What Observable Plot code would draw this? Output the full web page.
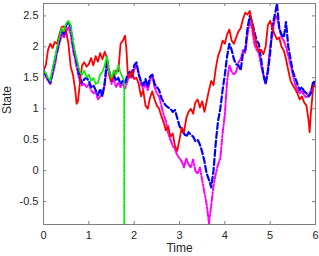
<!DOCTYPE html>
<html><head><meta charset="utf-8">
<script src="https://cdn.jsdelivr.net/npm/d3@7"></script>
<script src="https://cdn.jsdelivr.net/npm/@observablehq/plot@0.6"></script>
<style>
html,body{margin:0;padding:0;background:#fff;}
#chart{width:319px;height:256px;}
</style>
</head><body><div id="chart"></div>
<script>
const xTicks = [0, 1, 2, 3, 4, 5, 6];
const yTicks = [-0.5, 0, 0.5, 1, 1.5, 2, 2.5];
const xLabel = "Time";
const yLabel = "State";

const redSeries = [[0,1.62],[0.05,1.70],[0.10,1.95],[0.15,2.05],[0.20,1.98],[0.25,2.08],[0.30,2.05],[0.35,2.20],[0.40,2.32],[0.45,2.33],[0.50,2.25],[0.55,2.05],[0.60,1.68],[0.65,1.55],[0.70,1.30],[0.73,1.08],[0.76,1.12],[0.80,1.40],[0.85,1.70],[0.90,1.75],[0.95,1.68],[1.00,1.72],[1.05,1.82],[1.10,1.70],[1.15,1.85],[1.20,1.76],[1.25,1.90],[1.30,1.80],[1.35,1.92],[1.40,1.82],[1.45,1.55],[1.50,1.45],[1.55,1.55],[1.60,1.62],[1.65,1.60],[1.70,2.05],[1.75,2.10],[1.80,2.18],[1.83,1.95],[1.86,1.55],[1.90,1.50],[1.95,1.62],[2.00,1.48],[2.05,1.50],[2.10,1.40],[2.15,1.20],[2.20,1.30],[2.25,1.05],[2.30,1.00],[2.35,1.18],[2.40,1.28],[2.45,1.15],[2.50,1.05],[2.55,1.00],[2.60,0.88],[2.65,0.78],[2.70,0.65],[2.75,0.72],[2.80,0.55],[2.85,0.60],[2.90,0.40],[2.95,0.32],[3.00,0.50],[3.05,0.70],[3.10,0.62],[3.15,0.85],[3.20,0.95],[3.25,1.00],[3.30,0.92],[3.35,1.10],[3.40,1.15],[3.45,1.02],[3.50,1.12],[3.55,0.95],[3.60,1.12],[3.65,1.30],[3.70,1.45],[3.75,1.38],[3.80,1.65],[3.85,1.85],[3.90,1.95],[3.95,2.10],[4.00,2.05],[4.05,2.20],[4.10,2.28],[4.15,2.10],[4.20,2.05],[4.25,2.15],[4.30,2.25],[4.35,2.30],[4.40,2.45],[4.45,2.55],[4.50,2.52],[4.55,2.58],[4.60,2.40],[4.65,2.20],[4.70,2.02],[4.75,1.92],[4.80,1.95],[4.85,1.88],[4.90,2.00],[4.95,2.35],[5.00,2.42],[5.05,2.30],[5.10,2.20],[5.15,2.12],[5.20,2.15],[5.25,2.00],[5.30,1.94],[5.35,1.80],[5.40,1.62],[5.45,1.45],[5.50,1.38],[5.55,1.32],[5.60,1.25],[5.65,1.15],[5.70,1.20],[5.75,1.10],[5.80,1.05],[5.85,0.80],[5.87,0.62],[5.90,0.95],[5.95,1.35],[6.00,1.40]];

const blueSeries = [[0,1.62],[0.05,1.55],[0.10,1.48],[0.15,1.42],[0.20,1.60],[0.25,1.78],[0.30,1.95],[0.35,2.10],[0.40,2.28],[0.45,2.20],[0.50,2.35],[0.55,2.40],[0.60,2.32],[0.65,2.05],[0.70,1.85],[0.75,1.70],[0.80,1.50],[0.85,1.42],[0.90,1.48],[0.95,1.50],[1.00,1.45],[1.05,1.35],[1.10,1.38],[1.15,1.30],[1.20,1.22],[1.25,1.32],[1.30,1.20],[1.35,1.42],[1.40,1.80],[1.45,1.60],[1.50,1.45],[1.55,1.55],[1.60,1.45],[1.65,1.50],[1.70,1.40],[1.75,1.45],[1.80,1.40],[1.85,1.55],[1.90,1.60],[1.95,1.52],[2.00,1.70],[2.05,1.75],[2.10,1.55],[2.15,1.45],[2.20,1.38],[2.25,1.48],[2.30,1.35],[2.35,1.52],[2.40,1.55],[2.45,1.40],[2.50,1.35],[2.55,1.30],[2.60,1.18],[2.65,1.10],[2.70,1.05],[2.75,1.02],[2.80,1.00],[2.85,0.95],[2.90,0.98],[2.95,0.85],[3.00,0.72],[3.05,0.65],[3.10,0.60],[3.15,0.55],[3.20,0.62],[3.25,0.58],[3.30,0.55],[3.35,0.48],[3.40,0.50],[3.45,0.42],[3.50,0.30],[3.55,0.15],[3.60,-0.05],[3.65,-0.15],[3.70,-0.27],[3.75,0.00],[3.80,0.45],[3.85,0.80],[3.90,1.00],[3.95,1.30],[4.00,1.55],[4.05,1.85],[4.10,2.05],[4.15,1.95],[4.20,1.80],[4.25,1.72],[4.30,1.70],[4.35,1.62],[4.40,1.90],[4.45,1.95],[4.50,2.30],[4.55,2.50],[4.60,2.40],[4.65,2.25],[4.70,2.10],[4.75,2.05],[4.80,1.80],[4.85,1.55],[4.90,1.40],[4.95,1.60],[5.00,1.90],[5.05,2.35],[5.10,2.50],[5.15,2.70],[5.20,2.30],[5.25,2.20],[5.30,2.15],[5.35,2.40],[5.40,2.00],[5.45,1.80],[5.50,1.60],[5.55,1.50],[5.60,1.40],[5.65,1.30],[5.70,1.35],[5.75,1.28],[5.80,1.25],[5.85,1.20],[5.90,1.25],[5.95,1.45],[6.00,1.40]];

const magentaSeries = [[0,1.60],[0.05,1.52],[0.10,1.45],[0.15,1.40],[0.20,1.55],[0.25,1.70],[0.30,1.90],[0.35,2.05],[0.40,2.20],[0.45,2.15],[0.50,2.25],[0.55,2.32],[0.60,2.20],[0.65,1.95],[0.70,1.78],[0.75,1.60],[0.80,1.45],[0.85,1.38],[0.90,1.40],[0.95,1.35],[1.00,1.40],[1.05,1.30],[1.10,1.25],[1.15,1.28],[1.20,1.15],[1.25,1.20],[1.30,1.25],[1.35,1.38],[1.40,1.70],[1.45,1.55],[1.50,1.40],[1.55,1.48],[1.60,1.35],[1.65,1.42],[1.70,1.35],[1.75,1.40],[1.80,1.32],[1.85,1.45],[1.90,1.55],[1.95,1.50],[2.00,1.62],[2.05,1.72],[2.10,1.58],[2.15,1.40],[2.20,1.32],[2.25,1.40],[2.30,1.30],[2.35,1.45],[2.40,1.55],[2.45,1.35],[2.50,1.25],[2.55,1.20],[2.60,1.05],[2.65,0.90],[2.70,0.80],[2.75,0.60],[2.80,0.50],[2.85,0.40],[2.90,0.35],[2.95,0.25],[3.00,0.20],[3.05,0.15],[3.10,0.05],[3.15,0.20],[3.20,0.10],[3.25,0.05],[3.30,0.18],[3.35,0.00],[3.40,-0.05],[3.45,0.05],[3.50,-0.15],[3.55,-0.35],[3.60,-0.55],[3.65,-0.85],[3.70,-0.55],[3.75,-0.25],[3.80,-0.05],[3.85,0.10],[3.90,0.20],[3.95,0.60],[4.00,0.90],[4.05,1.45],[4.10,1.70],[4.15,1.60],[4.20,1.55],[4.25,1.60],[4.30,1.75],[4.35,1.80],[4.40,1.95],[4.45,1.90],[4.50,2.20],[4.55,2.40],[4.60,2.30],[4.65,2.05],[4.70,1.95],[4.75,1.90],[4.80,1.70],[4.85,1.55],[4.90,1.40],[4.95,1.65],[5.00,2.00],[5.05,2.20],[5.10,2.45],[5.15,2.50],[5.20,2.30],[5.25,2.15],[5.30,2.10],[5.35,2.00],[5.40,1.85],[5.45,1.70],[5.50,1.55],[5.55,1.40],[5.60,1.30],[5.65,1.25],[5.70,1.28],[5.75,1.22],[5.80,1.18],[5.85,1.22],[5.90,1.30],[5.95,1.38],[6.00,1.35]];

const greenSeries = [[0,1.60],[0.05,1.58],[0.10,1.50],[0.15,1.45],[0.20,1.65],[0.25,1.80],[0.30,2.00],[0.35,2.15],[0.40,2.30],[0.45,2.25],[0.50,2.38],[0.55,2.42],[0.60,2.35],[0.65,2.10],[0.70,1.90],[0.75,1.75],[0.80,1.60],[0.85,1.55],[0.90,1.62],[0.95,1.50],[1.00,1.55],[1.05,1.45],[1.10,1.50],[1.15,1.40],[1.20,1.42],[1.25,1.55],[1.30,1.60],[1.35,1.70],[1.40,1.85],[1.45,1.58],[1.50,1.50],[1.55,1.62],[1.60,1.55],[1.65,1.70],[1.70,1.58],[1.75,1.50],[1.78,1.45],[1.78,-1.2]];

const X0 = 0, X1 = 6, Y0 = -0.87, Y1 = 2.7;
const axisColor = "#808080";
const textColor = "#262626";
const font = "Liberation Sans, Arial, Helvetica, sans-serif";

const xTickLen = (X1 - X0) * 3 / 272;
const yTickLen = (Y1 - Y0) * 3 / 221;

const chart = Plot.plot({
  width: 319,
  height: 256,
  marginLeft: 43,
  marginRight: 4,
  marginTop: 3,
  marginBottom: 32,
  style: {fontFamily: font, fontSize: "11px", color: textColor, background: "#fff"},
  x: {domain: [X0, X1]},
  y: {domain: [Y0, Y1]},
  marks: [
    Plot.line(magentaSeries, {x: d => d[0], y: d => d[1], stroke: "#ff00ff", strokeWidth: 2, strokeDasharray: "6,2,1.5,2", clip: true}),
    Plot.line(blueSeries, {x: d => d[0], y: d => d[1], stroke: "#0000ff", strokeWidth: 2.2, strokeDasharray: "6,3", clip: true}),
    Plot.line(redSeries, {x: d => d[0], y: d => d[1], stroke: "#ff0000", strokeWidth: 1.8, clip: true}),
    Plot.line(greenSeries, {x: d => d[0], y: d => d[1], stroke: "#00ee00", strokeWidth: 1.8, strokeDasharray: "1.2,1.5", clip: true}),
    Plot.frame({stroke: axisColor, strokeWidth: 1}),
    Plot.ruleX(xTicks, {x: d => d, y1: Y0, y2: Y0 + yTickLen, stroke: axisColor}),
    Plot.ruleX(xTicks, {x: d => d, y1: Y1, y2: Y1 - yTickLen, stroke: axisColor}),
    Plot.ruleY(yTicks, {y: d => d, x1: X0, x2: X0 + xTickLen, stroke: axisColor}),
    Plot.ruleY(yTicks, {y: d => d, x1: X1, x2: X1 - xTickLen, stroke: axisColor}),
    Plot.axisX(xTicks, {tickSize: 0, tickPadding: 7, tickFormat: d => String(d), label: null, fill: textColor, fontSize: 11}),
    Plot.axisY(yTicks, {tickSize: 0, tickPadding: 5, tickFormat: d => String(d), label: null, fill: textColor, fontSize: 11}),
    Plot.text([xLabel], {frameAnchor: "bottom", dy: 27.5, text: d => d, fill: textColor, fontSize: 12}),
    Plot.text([yLabel], {frameAnchor: "left", dx: -36, rotate: -90, text: d => d, fill: textColor, fontSize: 12})
  ]
});
document.getElementById("chart").appendChild(chart);
</script>
</body></html>
